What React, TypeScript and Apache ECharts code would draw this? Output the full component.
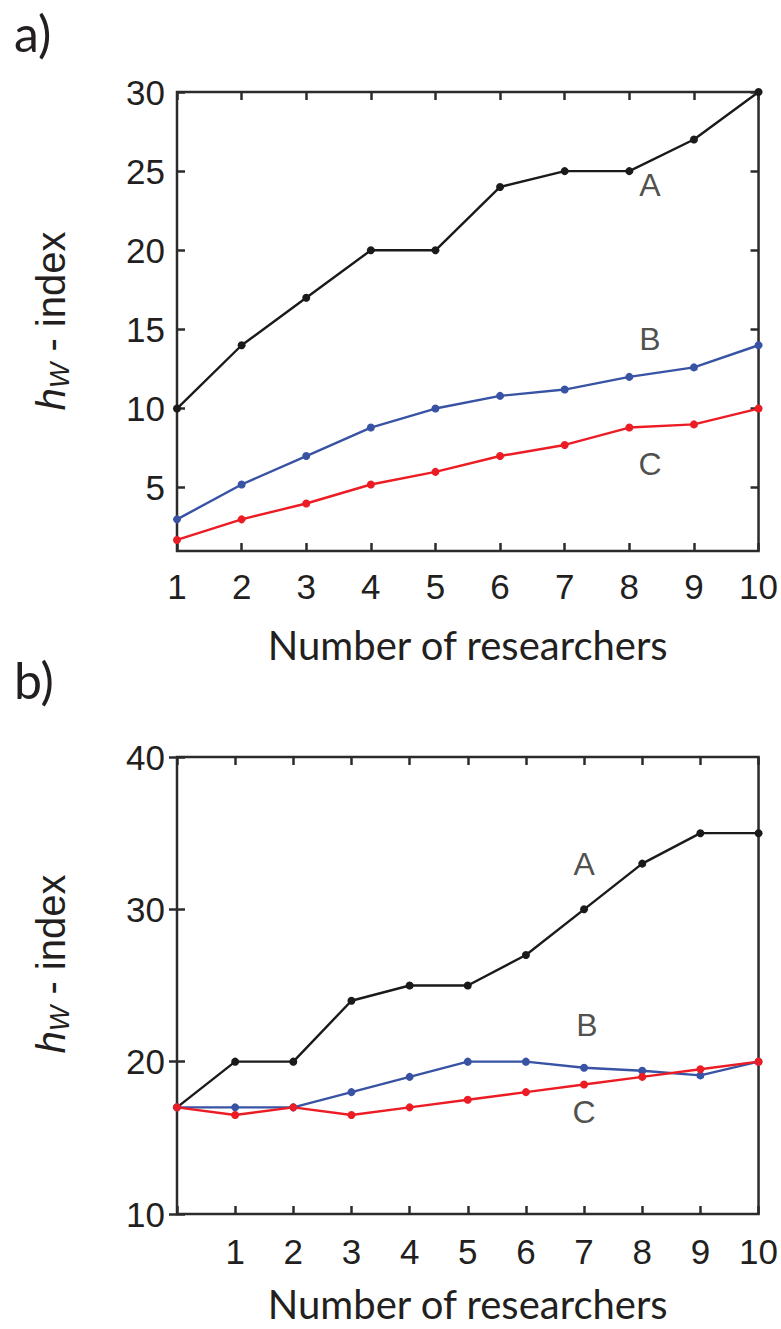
import React, { useEffect, useRef } from "react";
import * as echarts from "echarts";

// ---- Data (panel a) ----
const xTop = [1, 2, 3, 4, 5, 6, 7, 8, 9, 10];
const aTop = [10, 14, 17, 20, 20, 24, 25, 25, 27, 30];
const bTop = [3, 5.2, 7, 8.8, 10, 10.8, 11.2, 12, 12.6, 14];
const cTop = [1.7, 3, 4, 5.2, 6, 7, 7.7, 8.8, 9, 10];
const yTicksTop = [5, 10, 15, 20, 25, 30];
const labelsTop: [number, number, string][] = [
  [8.32, 24.1, "A"],
  [8.32, 14.4, "B"],
  [8.32, 6.5, "C"],
];

// ---- Data (panel b) ----
const xBot = [0, 1, 2, 3, 4, 5, 6, 7, 8, 9, 10];
const aBot = [17, 20, 20, 24, 25, 25, 27, 30, 33, 35, 35];
const bBot = [17, 17, 17, 18, 19, 20, 20, 19.6, 19.4, 19.1, 20];
const cBot = [17, 16.5, 17, 16.5, 17, 17.5, 18, 18.5, 19, 19.5, 20];
const labelsBot: [number, number, string][] = [
  [7.0, 33.0, "A"],
  [7.05, 22.4, "B"],
  [7.0, 16.7, "C"],
];

const xName = "Number of researchers";
const panelTitles = ["a)", "b)"];

const COLORS = { A: "#1a1a1a", B: "#3953a4", C: "#ec1c24" };
const AXIS = "#2b2b2b";
const TXT = "#231f20";
const NUM_FONT = "Liberation Sans";
const NAME_FONT = "Lato";

function pairs(xs: number[], ys: number[]) {
  return xs.map((x, i) => [x, ys[i]]);
}

function lineSeries(name: string, color: string, data: number[][], gi: number) {
  return {
    name,
    type: "line",
    xAxisIndex: gi * 2,
    yAxisIndex: gi * 2,
    data,
    symbol: "circle",
    symbolSize: 8,
    showSymbol: true,
    lineStyle: { color, width: 2.4 },
    itemStyle: { color },
    z: 3,
  };
}

function labelSeries(data: [number, number, string][], gi: number) {
  return {
    type: "scatter",
    xAxisIndex: gi * 2,
    yAxisIndex: gi * 2,
    data,
    symbolSize: 1,
    itemStyle: { color: "rgba(0,0,0,0)" },
    label: {
      show: true,
      position: "inside",
      formatter: (p: any) => p.data[2],
      fontFamily: NUM_FONT,
      fontSize: 32,
      color: TXT,
    },
    z: 4,
  };
}

const tickStyle = { show: true, inside: true, length: 8, lineStyle: { color: AXIS, width: 2.5 } };
const numLabel = { fontFamily: NUM_FONT, fontSize: 35, color: TXT };

function xAxesFor(gi: number, min: number, hideZero: boolean, gap: number, margin: number) {
  return [
    {
      gridIndex: gi,
      type: "value",
      position: "bottom",
      min,
      max: 10,
      interval: 1,
      axisLine: { show: false },
      axisTick: tickStyle,
      splitLine: { show: false },
      axisLabel: {
        ...numLabel,
        margin,
        formatter: (v: number) => (hideZero && v === 0 ? "" : String(v)),
      },
      name: xName,
      nameLocation: "middle",
      nameGap: gap,
      nameTextStyle: { fontFamily: NAME_FONT, fontSize: 40, lineHeight: 40, color: TXT },
    },
    {
      gridIndex: gi,
      type: "value",
      position: "top",
      min,
      max: 10,
      interval: 1,
      axisLine: { show: false },
      axisTick: tickStyle,
      splitLine: { show: false },
      axisLabel: { show: false },
    },
  ];
}

const yName = {
  text: "{i|h}{s|W}{n| - index}",
  rich: {
    i: { fontFamily: NUM_FONT, fontStyle: "italic", fontSize: 40, lineHeight: 42, verticalAlign: "top", fill: TXT, color: TXT },
    s: { fontFamily: NUM_FONT, fontStyle: "italic", fontSize: 27, lineHeight: 27, padding: [22, 0, 0, 0], verticalAlign: "bottom", fill: TXT, color: TXT },
    n: { fontFamily: NUM_FONT, fontSize: 40, lineHeight: 42, verticalAlign: "top", fill: TXT, color: TXT },
  },
};

export default function App() {
  const ref = useRef<HTMLDivElement>(null);
  useEffect(() => {
    const chart = echarts.init(ref.current!, null, { renderer: "svg" });
    const grid = (top: number, height: number) => ({
      left: 177,
      top,
      width: 586,
      height,
      show: true,
      borderColor: AXIS,
      borderWidth: 2.5,
      backgroundColor: "rgba(0,0,0,0)",
      containLabel: false,
    });
    const option: any = {
      animation: false,
      backgroundColor: "#ffffff",
      grid: [grid(92, 459), grid(757, 457)],
      xAxis: [...xAxesFor(0, 1, false, 74, 18), ...xAxesFor(1, 0, true, 70, 20)],
      yAxis: [
        {
          gridIndex: 0,
          type: "value",
          position: "left",
          min: 1,
          max: 30,
          axisLine: { show: false },
          axisTick: { ...tickStyle, customValues: yTicksTop },
          splitLine: { show: false },
          axisLabel: { ...numLabel, margin: 12, customValues: yTicksTop },
        },
        {
          gridIndex: 0,
          type: "value",
          position: "right",
          min: 1,
          max: 30,
          axisLine: { show: false },
          axisTick: { ...tickStyle, customValues: yTicksTop },
          splitLine: { show: false },
          axisLabel: { show: false },
        },
        {
          gridIndex: 1,
          type: "value",
          position: "left",
          min: 10,
          max: 40,
          interval: 10,
          axisLine: { show: false },
          axisTick: tickStyle,
          splitLine: { show: false },
          axisLabel: { ...numLabel, margin: 12 },
        },
        {
          gridIndex: 1,
          type: "value",
          position: "right",
          min: 10,
          max: 40,
          interval: 10,
          axisLine: { show: false },
          axisTick: tickStyle,
          splitLine: { show: false },
          axisLabel: { show: false },
        },
      ],
      series: [
        lineSeries("A", COLORS.A, pairs(xTop, aTop), 0),
        lineSeries("B", COLORS.B, pairs(xTop, bTop), 0),
        lineSeries("C", COLORS.C, pairs(xTop, cTop), 0),
        labelSeries(labelsTop, 0),
        lineSeries("A", COLORS.A, pairs(xBot, aBot), 1),
        lineSeries("B", COLORS.B, pairs(xBot, bBot), 1),
        lineSeries("C", COLORS.C, pairs(xBot, cBot), 1),
        labelSeries(labelsBot, 1),
      ],
      graphic: [
        {
          type: "text",
          left: 14,
          top: 8,
          style: { text: panelTitles[0], fontFamily: NAME_FONT, fontSize: 50, fill: TXT },
        },
        {
          type: "text",
          left: 14,
          top: 655,
          style: { text: panelTitles[1], fontFamily: NAME_FONT, fontSize: 50, fill: TXT },
        },
        {
          type: "text",
          x: 52,
          y: 321,
          rotation: Math.PI / 2,
          style: { ...yName, align: "center", verticalAlign: "middle" },
        },
        {
          type: "text",
          x: 52,
          y: 964,
          rotation: Math.PI / 2,
          style: { ...yName, align: "center", verticalAlign: "middle" },
        },
      ],
    };
    chart.setOption(option);
    return () => chart.dispose();
  }, []);
  return (
    <div
      ref={ref}
      style={{ position: "absolute", left: 0, top: 0, width: 781, height: 1329 }}
    />
  );
}
